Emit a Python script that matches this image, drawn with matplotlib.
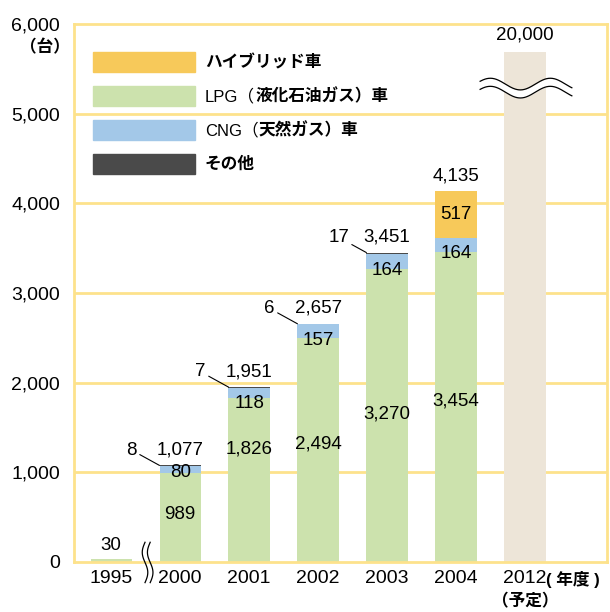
import numpy as np
import matplotlib.pyplot as plt
from matplotlib.patches import Rectangle

plt.rcParams['font.family'] = ['Liberation Sans', 'Noto Sans CJK JP']

years = ['1995', '2000', '2001', '2002', '2003', '2004', '2012']
lpg = [30, 989, 1826, 2494, 3270, 3454, 0]
cng = [0, 80, 118, 157, 164, 164, 0]
other = [0, 8, 7, 6, 17, 0, 0]
hybrid = [0, 0, 0, 0, 0, 517, 0]
totals = [30, 1077, 1951, 2657, 3451, 4135, 20000]
plan_2012 = 20000
plan_cap = 5690  # drawn height of the cut bar

lpg_label_y = [180, 525, 1260, 1315, 1650, 1795]
legend_labels = ['ハイブリッド車', 'LPG（液化石油ガス）車', 'CNG（天然ガス）車', 'その他']

c_hyb = '#f7c95a'
c_lpg = '#cce2ad'
c_cng = '#a3c8e8'
c_oth = '#4a4a4a'
c_plan = '#ede5d8'
c_grid = '#fde28c'

fig = plt.figure(figsize=(6.1, 6.12), dpi=100)
ax = fig.add_axes([74/610, 50/612, 533/610, 538/612])

x = np.arange(len(years))
w = 0.6
n = 6
ax.bar(x[:n], lpg[:n], w, color=c_lpg, zorder=2)
ax.bar(x[:n], cng[:n], w, bottom=lpg[:n], color=c_cng, zorder=2)
b2 = np.array(lpg[:n]) + np.array(cng[:n])
ax.bar(x[:n], other[:n], w, bottom=b2, color=c_oth, zorder=2)
b3 = b2 + np.array(other[:n])
ax.bar(x[:n], hybrid[:n], w, bottom=b3, color=c_hyb, zorder=2)
ax.bar(x[6], min(plan_2012, plan_cap), w, color=c_plan, zorder=2)

ax.set_xlim(-0.54, 7.19)
ax.set_ylim(0, 6000)
ax.set_yticks(range(0, 6001, 1000))
ax.set_yticklabels(['0', '1,000', '2,000', '3,000', '4,000', '5,000', '6,000'], fontsize=14)
ax.set_xticks(x)
ax.set_xticklabels(years, fontsize=14)
ax.tick_params(length=0, pad=6)
ax.tick_params(axis='y', pad=10)
for yy in range(1000, 6000, 1000):
    ax.axhline(yy, color=c_grid, lw=2, zorder=1)
for s in ax.spines.values():
    s.set_color(c_grid)
    s.set_linewidth(2)

fs = 13.5
# LPG labels
for i in range(n):
    ax.text(x[i], lpg_label_y[i], f'{lpg[i]:,}', ha='center', va='center', fontsize=fs, zorder=3)
# CNG labels
for i in range(1, n):
    top = lpg[i] + cng[i]
    off = 75 if i == 1 else 180
    ax.text(x[i], top - off, f'{cng[i]:,}', ha='center', va='center', fontsize=fs, zorder=3)
# hybrid label
ax.text(x[5], b3[5] + hybrid[5] / 2, f'{hybrid[5]:,}', ha='center', va='center', fontsize=fs, zorder=3)
# totals
for i in range(1, n):
    ax.annotate(f'{totals[i]:,}', (x[i], totals[i]), xytext=(0, 11), textcoords='offset points',
                ha='center', va='center', fontsize=fs)
ax.text(x[6], 5880, f'{totals[6]:,}', ha='center', va='center', fontsize=fs)
# other labels with leader lines
for i in range(1, 5):
    ax.annotate(f'{other[i]}', (x[i] - w / 2, totals[i]), xytext=(-20, 11), textcoords='offset points',
                ha='center', va='center', fontsize=fs,
                arrowprops=dict(arrowstyle='-', lw=0.8, color='black', shrinkA=0, shrinkB=0))

# wave cut on 2012 bar
xs = np.linspace(5.35, 6.68, 200)
ph = (xs - 5.35) / 0.87 * 2 * np.pi
up = 5330 + 65 * np.sin(ph + 0.5)
lo = up - 90
ax.fill_between(xs, lo, up, color='white', zorder=3, lw=0)
ax.plot(xs, up, color='black', lw=0.9, zorder=4)
ax.plot(xs, lo, color='black', lw=0.9, zorder=4)

# axis break marks between 1995 and 2000
ys = np.linspace(-230, 220, 100)
for dx in (0.0, 0.075):
    xv = 0.49 + dx + 0.04 * np.sin((ys + 230) / 450 * 2 * np.pi)
    ax.plot(xv, ys, color='black', lw=0.9, zorder=4, clip_on=False)

# legend drawn by hand
lg_colors = [c_hyb, c_lpg, c_cng, c_oth]
for k, (lab, col) in enumerate(zip(legend_labels, lg_colors)):
    yc = 1 - (38 + 34 * k) / 538
    ax.add_patch(Rectangle((19 / 533, yc - 10 / 538), 102 / 533, 20 / 538, transform=ax.transAxes,
                           color=col, zorder=5))
    tx = 131 / 533
    if lab.startswith('LPG') or lab.startswith('CNG'):
        t1 = ax.text(tx, yc, lab[:4], transform=ax.transAxes, fontsize=12, va='center', zorder=5)
        ax.annotate(lab[4:], xy=(1, 0.5), xycoords=t1, va='center', ha='left', fontsize=12,
                    fontweight='bold', zorder=5)
    else:
        ax.text(tx, yc, lab, transform=ax.transAxes, fontsize=12, va='center', fontweight='bold', zorder=5)

fig.text(45 / 610, 1 - 47 / 612, '（台）', ha='center', va='center', fontsize=12, fontweight='bold')
fig.text(573 / 610, 1 - 580 / 612, '( 年度 )', ha='center', va='center', fontsize=12, fontweight='bold')
fig.text(525 / 610, 1 - 601 / 612, '（予定）', ha='center', va='center', fontsize=12, fontweight='bold')

fig.savefig('out.png', dpi=100)
